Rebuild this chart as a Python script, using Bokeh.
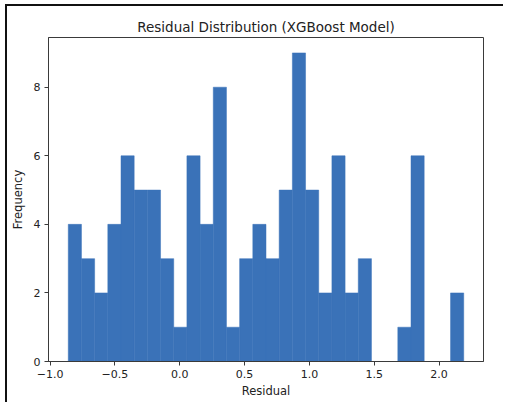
from bokeh.plotting import figure
from bokeh.models import FixedTicker, Range1d
from bokeh.embed import file_html
from bokeh.resources import INLINE

# Histogram data (30 bins)
bin_start = -0.86
bin_end = 2.19
counts = [4, 3, 2, 4, 6, 5, 5, 3, 1, 6, 4, 8, 1, 3, 4, 3, 5, 9, 5, 2, 6, 2, 3, 0, 0, 1, 6, 0, 0, 2]
x_ticks = [-1.0, -0.5, 0.0, 0.5, 1.0, 1.5, 2.0]
x_tick_labels = ["\u22121.0", "\u22120.5", "0.0", "0.5", "1.0", "1.5", "2.0"]
y_ticks = [0, 2, 4, 6, 8]

n = len(counts)
w = (bin_end - bin_start) / n
lefts = [bin_start + i * w for i in range(n)]
rights = [l + w for l in lefts]

span = bin_end - bin_start
p = figure(width=503, height=402, output_backend="svg", toolbar_location=None,
           x_range=Range1d(bin_start - 0.05 * span, bin_end + 0.05 * span),
           y_range=Range1d(0, max(counts) * 1.05),
           title="Residual Distribution (XGBoost Model)",
           min_border_left=48, min_border_right=20, min_border_top=37, min_border_bottom=41,
           border_fill_color=None, background_fill_color="white")

p.quad(left=lefts, right=rights, bottom=0, top=counts,
       fill_color="#3a72b8", line_color="#3a72b8", line_width=0.5)

p.title.text_font = "DejaVu Sans"
p.title.text_font_size = "13.5px"
p.title.text_font_style = "normal"
p.title.text_color = "#222222"
p.title.align = "center"
p.title.standoff = 6

p.xgrid.visible = False
p.ygrid.visible = False
p.outline_line_color = "#3a3a3a"
p.outline_line_width = 1

for ax in (p.xaxis, p.yaxis):
    ax.axis_line_color = "#3a3a3a"
    ax.major_tick_line_color = "#3a3a3a"
    ax.major_tick_out = 4
    ax.major_tick_in = 0
    ax.minor_tick_line_color = None
    ax.major_label_text_font = "DejaVu Sans"
    ax.major_label_text_font_size = "11px"
    ax.major_label_text_color = "#222222"
    ax.axis_label_text_font = "DejaVu Sans"
    ax.axis_label_text_font_size = "11.5px"
    ax.axis_label_text_font_style = "normal"
    ax.axis_label_text_color = "#222222"

p.xaxis.ticker = FixedTicker(ticks=x_ticks)
p.xaxis.major_label_overrides = {t: l for t, l in zip(x_ticks, x_tick_labels)}
p.xaxis.major_label_standoff = 4
p.xaxis.axis_label = "Residual"
p.xaxis.axis_label_standoff = 3
p.yaxis.ticker = FixedTicker(ticks=y_ticks)
p.yaxis.major_label_standoff = 4
p.yaxis.axis_label = "Frequency"
p.yaxis.axis_label_standoff = 6
p.yaxis.major_label_orientation = "horizontal"

p.styles = {
    "background-color": "white",
    "background-image": "linear-gradient(#111111, #111111), linear-gradient(#111111, #111111)",
    "background-size": "2px 100%, 100% 2px",
    "background-position": "5px 4px, 5px 4px",
    "background-repeat": "no-repeat",
}

open("out.html", "w").write(file_html(p, INLINE))
